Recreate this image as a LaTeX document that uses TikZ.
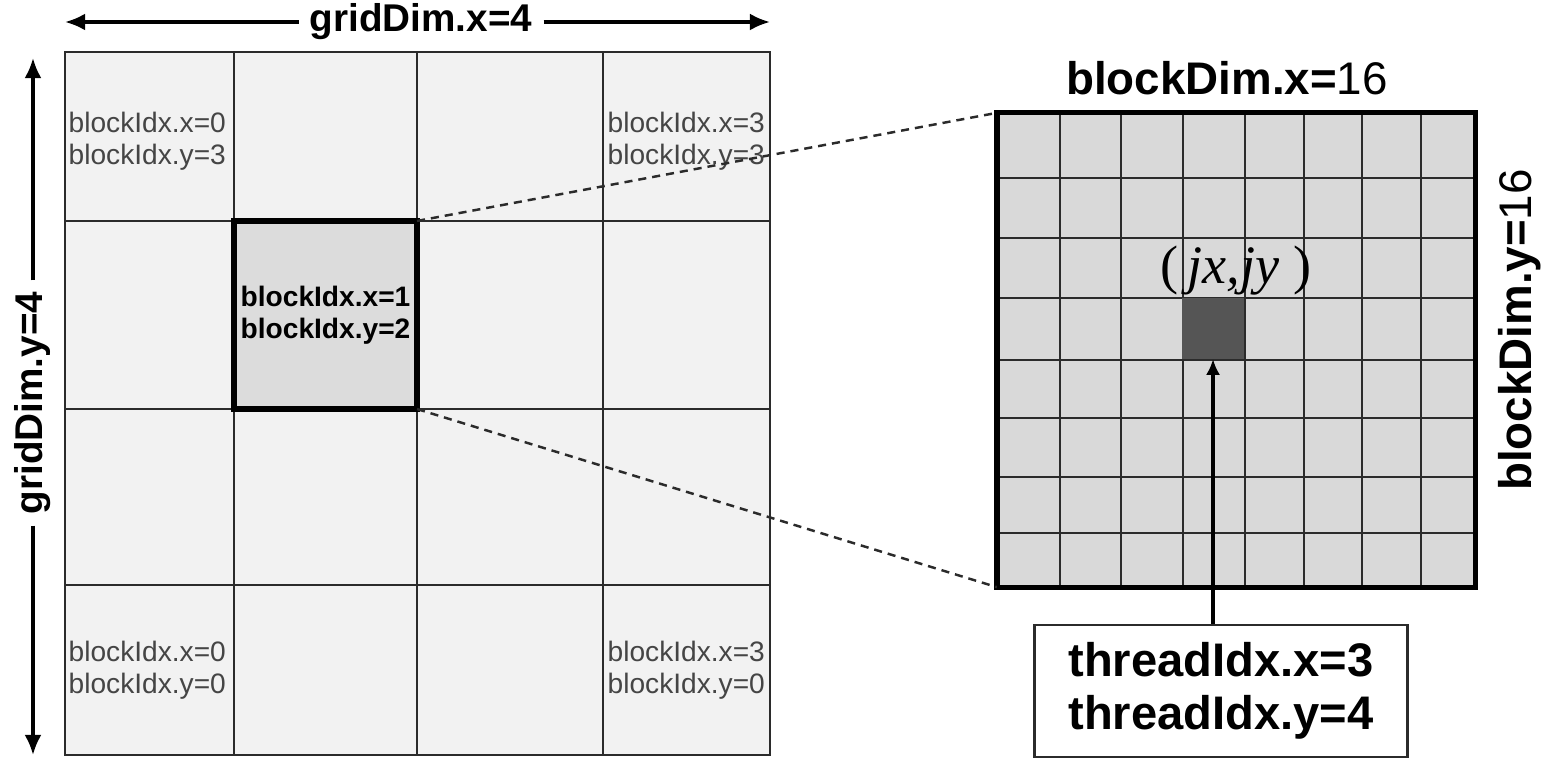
\documentclass[tikz,border=0pt]{standalone}
\usepackage{fontspec}
\setmainfont{Liberation Sans}
\newfontfamily\coordfont{Liberation Serif}
\usepackage{tikz}
\usetikzlibrary{arrows.meta,positioning,calc}
\definecolor{cellgray}{HTML}{F2F2F2}
\definecolor{hlgray}{HTML}{DCDCDC}
\definecolor{blockgray}{HTML}{D9D9D9}
\definecolor{threadgray}{HTML}{555555}
\definecolor{bk80}{HTML}{2B2B2B}
\definecolor{bk70}{HTML}{454545}
\tikzset{
  gridline/.style={draw=bk80, line width=0.8pt},
  hlcell/.style={
    rectangle, draw=black, fill=hlgray, line width=1.5pt,
    minimum width=1.83cm, minimum height=1.88cm,
    inner sep=0pt, outer sep=0pt, align=center,
    font=\fontsize{8}{9.2}\selectfont\bfseries
  },
  idxlabel/.style={
    font=\fontsize{8}{9.2}\selectfont, text=bk70,
    align=left, inner sep=0pt, anchor=west
  },
  dimlabel/.style={font=\fontsize{#1}{#1}\selectfont\bfseries, inner sep=3pt},
  dimlabel/.default=11,
  dimarrow/.style={-{Latex[length=5.7pt,width=4.8pt]}, line width=0.9pt},
  blockbox/.style={
    rectangle, draw=black, line width=1.5pt,
    minimum width=4.78cm, minimum height=4.74cm,
    inner sep=0pt, outer sep=0pt
  },
  threadcell/.style={
    rectangle, fill=threadgray, minimum width=0.62cm, minimum height=0.61cm,
    inner sep=0pt, outer sep=0pt
  },
  zoomline/.style={draw=bk80, line width=0.7pt, dash pattern=on 2.3pt off 1.7pt},
  ptrarrow/.style={-{Latex[length=4.5pt,width=4pt]}, line width=1.2pt},
  threadbox/.style={
    rectangle, draw=bk80, line width=0.7pt, fill=white,
    minimum width=3.73cm, minimum height=1.32cm,
    font=\fontsize{13.4}{15}\selectfont\bfseries, align=center
  },
}
\begin{document}
\begin{tikzpicture}[x=0.01cm, y=-0.01cm]
  \useasboundingbox (0,0) rectangle (1555,761);
  % grid of blocks
  \fill[cellgray] (65,52) rectangle (770,755);
  \foreach \x in {234,417,603} \draw[gridline] (\x,52) -- (\x,755);
  \foreach \y in {221,409,585} \draw[gridline] (65,\y) -- (770,\y);
  \draw[gridline] (65,52) rectangle (770,755);
  \node[idxlabel] (b03) at (68,141) {blockIdx.x=0\\blockIdx.y=3};
  \node[idxlabel] (b33) at (607,141) {blockIdx.x=3\\blockIdx.y=3};
  \node[idxlabel] (b00) at (68,670) {blockIdx.x=0\\blockIdx.y=0};
  \node[idxlabel] (b30) at (607,670) {blockIdx.x=3\\blockIdx.y=0};
  \node[hlcell] (b12) at (325.5,315) {blockIdx.x=1\\blockIdx.y=2};
  % grid dimensions
  \node[dimlabel] (gdx) at (421,22) {gridDim.x=4};
  \coordinate (gxl) at (65,22);
  \coordinate (gxr) at (770,22);
  \draw[dimarrow] (gdx) -- (gxl);
  \draw[dimarrow] (gdx) -- (gxr);
  \node[dimlabel, rotate=90] (gdy) at (33,403) {gridDim.y=4};
  \coordinate (gyt) at (33,58);
  \coordinate (gyb) at (33,755);
  \draw[dimarrow] (gdy.east) -- (gyt);
  \draw[dimarrow] (gdy.west) -- (gyb);
  % one block of threads
  \node[blockbox, fill=blockgray] (blk) at (1236,350) {};
  \foreach \x in {1060,1121,1183,1245,1304,1362,1421}
    \draw[gridline] (\x,113) -- (\x,587);
  \foreach \y in {178,238,298,360,418,477,533}
    \draw[gridline] (997,\y) -- (1475,\y);
  \node[threadcell] (thr) at (1213,328.5) {};
  \draw[blockbox] (blk.north west) rectangle (blk.south east);
  \node[font=\coordfont\fontsize{15.4}{16}\selectfont, inner sep=0pt] (jxy) at (1236,271)
    {(\,\textit{jx,jy}\ )};
  \node[dimlabel=13] (bdx) at (1227,78) {blockDim.x={\mdseries 16}};
  \node[dimlabel=13, rotate=90] (bdy) at (1520,330) {blockDim.y={\mdseries 16}};
  \draw[zoomline] (b12.north east) -- (blk.north west);
  \draw[zoomline] (b12.south east) -- (blk.south west);
  % thread index
  \node[threadbox] (tidx) at (1221,691) {threadIdx.x=3\\threadIdx.y=4};
  \draw[ptrarrow] (tidx.north -| thr) -- (thr.south);
\end{tikzpicture}
\end{document}
